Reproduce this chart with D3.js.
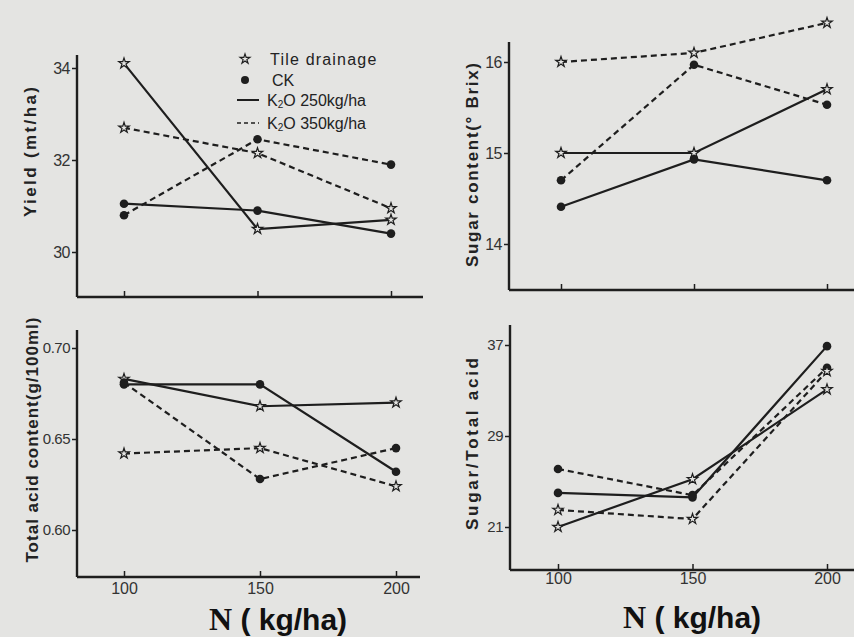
<!DOCTYPE html>
<html><head><meta charset="utf-8">
<script src="https://cdn.jsdelivr.net/npm/d3@7"></script>
<style>
html,body{margin:0;padding:0;background:#e4e4e2;}
svg{display:block;}
</style></head>
<body>
<svg id="chart" width="854" height="637"></svg>
<script>
// ---------- data ----------
const nLevels = [100, 150, 200];
const xTickLabels = ["100", "150", "200"];

const yieldTile250 = [34.1, 30.5, 30.7];
const yieldCK250   = [31.05, 30.9, 30.4];
const yieldTile350 = [32.7, 32.15, 30.95];
const yieldCK350   = [30.8, 32.45, 31.9];
const yieldTicks   = [30, 32, 34];

const sugarTile250 = [15.0, 15.0, 15.7];
const sugarCK250   = [14.41, 14.93, 14.7];
const sugarTile350 = [16.0, 16.1, 16.43];
const sugarCK350   = [14.7, 15.97, 15.53];
const sugarTicks   = [14, 15, 16];

const acidCK250   = [0.680, 0.680, 0.632];
const acidTile250 = [0.683, 0.668, 0.670];
const acidCK350   = [0.681, 0.628, 0.645];
const acidTile350 = [0.642, 0.645, 0.624];
const acidTicks   = [0.60, 0.65, 0.70];

const ratioCK250   = [24.0, 23.6, 36.9];
const ratioTile250 = [21.0, 25.2, 33.1];
const ratioCK350   = [26.1, 23.8, 35.0];
const ratioTile350 = [22.5, 21.7, 34.7];
const ratioTicks   = [21, 29, 37];

const legendLabels = ["Tile drainage", "CK", "250kg/ha", "350kg/ha"];

// ---------- drawing ----------
const svg = d3.select("#chart");
const BG = "#e4e4e2", INK = "#1e1e1e";

function panel(cfg) {
  const g = svg.append("g");
  const x = d3.scaleLinear().domain([100, 200]).range(cfg.xr);
  const y = d3.scaleLinear().domain(cfg.yd).range(cfg.yr);
  g.append("line").attr("x1", cfg.ax).attr("x2", cfg.ax).attr("y1", cfg.top).attr("y2", cfg.bottom)
    .attr("stroke", INK).attr("stroke-width", 2.4);
  g.append("line").attr("x1", cfg.ax).attr("x2", cfg.right).attr("y1", cfg.bottom).attr("y2", cfg.bottom)
    .attr("stroke", INK).attr("stroke-width", 2.4);
  const ya = d3.axisLeft(y).tickValues(cfg.ticks).tickSize(5).tickPadding(2).tickFormat(cfg.fmt);
  const yg = g.append("g").attr("transform", `translate(${cfg.ax},0)`).call(ya);
  yg.select(".domain").remove();
  yg.selectAll("line").attr("stroke", INK).attr("stroke-width", 1.5);
  yg.selectAll("text").attr("font-family", "Liberation Sans, Arial, sans-serif")
    .attr("font-size", cfg.tickFs).attr("fill", "#333").attr("letter-spacing", "-0.5");
  const xa = d3.axisBottom(x).tickValues(nLevels).tickSize(-6)
    .tickFormat((d, i) => cfg.showX ? xTickLabels[i] : "");
  const xg = g.append("g").attr("transform", `translate(0,${cfg.bottom})`).call(xa);
  xg.select(".domain").remove();
  xg.selectAll("line").attr("stroke", INK).attr("stroke-width", 1.5);
  xg.selectAll("text").attr("font-family", "Liberation Sans, Arial, sans-serif")
    .attr("font-size", 16).attr("fill", "#333").attr("dy", cfg.xLabDy);
  g.append("text").attr("transform", `translate(${cfg.ylx},${cfg.yly}) rotate(-90)`)
    .attr("text-anchor", "middle").attr("font-family", "Liberation Sans, Arial, sans-serif")
    .attr("font-weight", "bold").attr("font-size", 17).attr("fill", "#222")
    .attr("textLength", cfg.ylLen).attr("lengthAdjust", "spacing")
    .text(cfg.ytitle);
  const line = d3.line().x((d, i) => x(nLevels[i])).y(d => y(d));
  cfg.series.forEach(s => {
    g.append("path").attr("d", line(s.v)).attr("fill", "none").attr("stroke", INK)
      .attr("stroke-width", 2.2).attr("stroke-dasharray", s.dash ? "6,4" : null);
  });
  cfg.series.forEach(s => {
    s.v.forEach((v, i) => {
      if (s.m === "star") {
        g.append("path").attr("d", d3.symbol(d3.symbolStar, 34)())
          .attr("transform", `translate(${x(nLevels[i])},${y(v)})`)
          .attr("fill", BG).attr("stroke", INK).attr("stroke-width", 1.2);
      } else {
        g.append("circle").attr("cx", x(nLevels[i])).attr("cy", y(v)).attr("r", 4.3).attr("fill", INK);
      }
    });
  });
  if (cfg.xtitle) {
    const t = g.append("text").attr("x", cfg.xtx).attr("y", cfg.xty).attr("text-anchor", "middle")
      .attr("fill", "#111").attr("font-size", 32);
    t.append("tspan").attr("font-family", "Liberation Serif, Times New Roman, serif").attr("font-weight", "bold").text("N");
    t.append("tspan").attr("font-family", "Liberation Sans, Arial, sans-serif").attr("font-size", 30)
      .attr("font-weight", "bold").text(" ( kg/ha)");
  }
}

panel({
  xr: [124, 391], yd: [30, 34], yr: [252, 68], ax: 77, top: 55, bottom: 297, right: 423,
  ticks: yieldTicks, fmt: d3.format("d"), tickFs: 16, showX: false,
  ytitle: "Yield  (mt/ha)", ylx: 36, yly: 152, ylLen: 130,
  series: [
    { v: yieldTile250, m: "star", dash: false },
    { v: yieldCK250, m: "dot", dash: false },
    { v: yieldTile350, m: "star", dash: true },
    { v: yieldCK350, m: "dot", dash: true }
  ]
});

panel({
  xr: [561, 827], yd: [14, 16], yr: [244, 62], ax: 509, top: 42, bottom: 290, right: 854,
  ticks: sugarTicks, fmt: d3.format("d"), tickFs: 16, showX: false,
  ytitle: "Sugar content(° Brix)", ylx: 478, yly: 165, ylLen: 204,
  series: [
    { v: sugarTile250, m: "star", dash: false },
    { v: sugarCK250, m: "dot", dash: false },
    { v: sugarTile350, m: "star", dash: true },
    { v: sugarCK350, m: "dot", dash: true }
  ]
});

panel({
  xr: [124, 396], yd: [0.60, 0.70], yr: [530, 348], ax: 77, top: 330, bottom: 577, right: 420,
  ticks: acidTicks, fmt: d3.format(".2f"), tickFs: 15, showX: true, xLabDy: "0.85em",
  ytitle: "Total acid content(g/100ml)", ylx: 38, yly: 440, ylLen: 245,
  xtitle: true, xtx: 278, xty: 630,
  series: [
    { v: acidCK250, m: "dot", dash: false },
    { v: acidTile250, m: "star", dash: false },
    { v: acidCK350, m: "dot", dash: true },
    { v: acidTile350, m: "star", dash: true }
  ]
});

panel({
  xr: [558, 827], yd: [21, 37], yr: [527, 345], ax: 510, top: 325, bottom: 570, right: 854,
  ticks: ratioTicks, fmt: d3.format("d"), tickFs: 15, showX: true, xLabDy: "0.7em",
  ytitle: "Sugar/Total acid", ylx: 478, yly: 444, ylLen: 172,
  xtitle: true, xtx: 692, xty: 628,
  series: [
    { v: ratioCK250, m: "dot", dash: false },
    { v: ratioTile250, m: "star", dash: false },
    { v: ratioCK350, m: "dot", dash: true },
    { v: ratioTile350, m: "star", dash: true }
  ]
});

// ---------- legend (panel 1) ----------
const lg = svg.append("g").attr("font-family", "Liberation Sans, Arial, sans-serif")
  .attr("font-size", 16).attr("fill", "#222");
lg.append("path").attr("d", d3.symbol(d3.symbolStar, 30)()).attr("transform", "translate(245,59)")
  .attr("fill", BG).attr("stroke", INK).attr("stroke-width", 1.2);
lg.append("text").attr("x", 270).attr("y", 65).attr("letter-spacing", 1.2).text(legendLabels[0]);
lg.append("circle").attr("cx", 245).attr("cy", 80).attr("r", 4).attr("fill", INK);
lg.append("text").attr("x", 272).attr("y", 86).text(legendLabels[1]);
lg.append("line").attr("x1", 237).attr("x2", 259).attr("y1", 100).attr("y2", 100)
  .attr("stroke", INK).attr("stroke-width", 2);
lg.append("line").attr("x1", 237).attr("x2", 259).attr("y1", 123).attr("y2", 123)
  .attr("stroke", INK).attr("stroke-width", 1.5).attr("stroke-dasharray", "4,3");
[[legendLabels[2], 106], [legendLabels[3], 129]].forEach(([lab, yy]) => {
  const t = lg.append("text").attr("x", 267).attr("y", yy);
  t.append("tspan").text("K");
  t.append("tspan").attr("font-size", 10).attr("dy", 2).text("2");
  t.append("tspan").attr("dy", -2).text("O ");
  t.append("tspan").text(lab);
});
</script>
</body></html>
